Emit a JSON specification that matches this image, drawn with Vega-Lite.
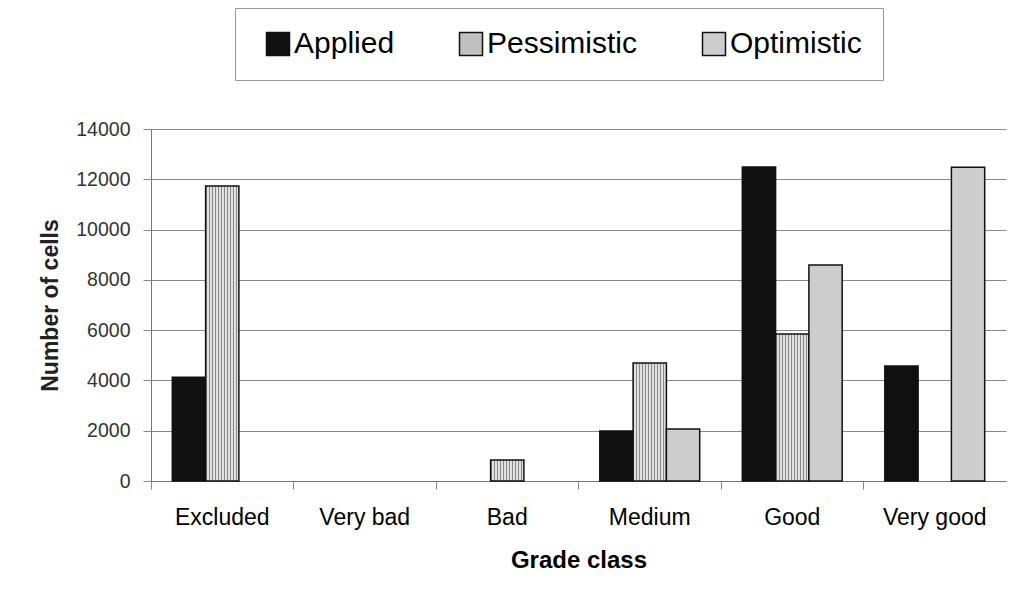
{
  "$schema": "https://vega.github.io/schema/vega-lite/v6.json",
  "autosize": {"type": "none"},
  "width": 855,
  "height": 352,
  "padding": {"left": 151, "top": 129, "right": 18, "bottom": 125},
  "background": "white",
  "config": {"font": "Liberation Sans", "view": {"stroke": null}},
  "data": {
    "values": [
      {"grade": "Excluded", "series": "Applied", "value": 4130},
      {"grade": "Excluded", "series": "Pessimistic", "value": 11730},
      {"grade": "Bad", "series": "Pessimistic", "value": 840},
      {"grade": "Medium", "series": "Applied", "value": 1990},
      {"grade": "Medium", "series": "Pessimistic", "value": 4690},
      {"grade": "Medium", "series": "Optimistic", "value": 2070},
      {"grade": "Good", "series": "Applied", "value": 12490},
      {"grade": "Good", "series": "Pessimistic", "value": 5850},
      {"grade": "Good", "series": "Optimistic", "value": 8590},
      {"grade": "Very good", "series": "Applied", "value": 4570},
      {"grade": "Very good", "series": "Optimistic", "value": 12480}
    ]
  },
  "mark": {"type": "bar", "stroke": "#111", "strokeWidth": 1.5},
  "encoding": {
    "x": {
      "field": "grade",
      "type": "nominal",
      "sort": ["Excluded", "Very bad", "Bad", "Medium", "Good", "Very good"],
      "scale": {"domain": ["Excluded", "Very bad", "Bad", "Medium", "Good", "Very good"], "paddingInner": 0, "paddingOuter": 0},
      "axis": {
        "title": "Grade class",
        "labelAngle": 0,
        "labelFontSize": 23,
        "labelColor": "#000",
        "labelPadding": 17,
        "bandPosition": 0,
        "tickSize": 8,
        "tickColor": "#888",
        "domainColor": "#777",
        "titleFontSize": 24,
        "titleFontWeight": "bold",
        "titleColor": "#000",
        "titlePadding": 19,
        "grid": false
      }
    },
    "xOffset": {
      "field": "series",
      "type": "nominal",
      "scale": {"domain": ["Applied", "Pessimistic", "Optimistic"], "paddingInner": 0, "paddingOuter": 0.64}
    },
    "y": {
      "field": "value",
      "type": "quantitative",
      "scale": {"domain": [0, 14000]},
      "axis": {
        "values": [0, 2000, 4000, 6000, 8000, 10000, 12000, 14000],
        "format": "d",
        "title": "Number of cells",
        "labelFontSize": 19.5,
        "labelColor": "#333",
        "labelPadding": 13,
        "tickSize": 8,
        "tickColor": "#888",
        "domainColor": "#777",
        "gridColor": "#888",
        "gridOpacity": 1,
        "titleFontSize": 23,
        "titleFontWeight": "bold",
        "titleColor": "#222",
        "titlePadding": 13
      }
    },
    "fill": {
      "condition": {
        "test": "datum.series === 'Pessimistic'",
        "value": {
          "gradient": "linear", "x1": 0, "y1": 0, "x2": 1, "y2": 0,
          "stops": [
            {"offset": 0, "color": "#8a8a8a"}, {"offset": 0.0303, "color": "#8a8a8a"}, {"offset": 0.0303, "color": "#e0e0e0"}, {"offset": 0.0909, "color": "#e0e0e0"},
            {"offset": 0.0909, "color": "#8a8a8a"}, {"offset": 0.1212, "color": "#8a8a8a"}, {"offset": 0.1212, "color": "#e0e0e0"}, {"offset": 0.1818, "color": "#e0e0e0"},
            {"offset": 0.1818, "color": "#8a8a8a"}, {"offset": 0.2121, "color": "#8a8a8a"}, {"offset": 0.2121, "color": "#e0e0e0"}, {"offset": 0.2727, "color": "#e0e0e0"},
            {"offset": 0.2727, "color": "#8a8a8a"}, {"offset": 0.3030, "color": "#8a8a8a"}, {"offset": 0.3030, "color": "#e0e0e0"}, {"offset": 0.3636, "color": "#e0e0e0"},
            {"offset": 0.3636, "color": "#8a8a8a"}, {"offset": 0.3939, "color": "#8a8a8a"}, {"offset": 0.3939, "color": "#e0e0e0"}, {"offset": 0.4545, "color": "#e0e0e0"},
            {"offset": 0.4545, "color": "#8a8a8a"}, {"offset": 0.4848, "color": "#8a8a8a"}, {"offset": 0.4848, "color": "#e0e0e0"}, {"offset": 0.5455, "color": "#e0e0e0"},
            {"offset": 0.5455, "color": "#8a8a8a"}, {"offset": 0.5758, "color": "#8a8a8a"}, {"offset": 0.5758, "color": "#e0e0e0"}, {"offset": 0.6364, "color": "#e0e0e0"},
            {"offset": 0.6364, "color": "#8a8a8a"}, {"offset": 0.6667, "color": "#8a8a8a"}, {"offset": 0.6667, "color": "#e0e0e0"}, {"offset": 0.7273, "color": "#e0e0e0"},
            {"offset": 0.7273, "color": "#8a8a8a"}, {"offset": 0.7576, "color": "#8a8a8a"}, {"offset": 0.7576, "color": "#e0e0e0"}, {"offset": 0.8182, "color": "#e0e0e0"},
            {"offset": 0.8182, "color": "#8a8a8a"}, {"offset": 0.8485, "color": "#8a8a8a"}, {"offset": 0.8485, "color": "#e0e0e0"}, {"offset": 0.9091, "color": "#e0e0e0"},
            {"offset": 0.9091, "color": "#8a8a8a"}, {"offset": 0.9394, "color": "#8a8a8a"}, {"offset": 0.9394, "color": "#e0e0e0"}, {"offset": 1, "color": "#e0e0e0"}
          ]
        }
      },
      "field": "series",
      "type": "nominal",
      "scale": {"domain": ["Applied", "Pessimistic", "Optimistic"], "range": ["#111111", "#c0c0c0", "#cdcdcd"]},
      "legend": {
        "title": null,
        "orient": "none",
        "legendX": 84,
        "legendY": -121,
        "direction": "horizontal",
        "columns": 3,
        "columnPadding": 54,
        "labelFontSize": 30,
        "labelColor": "#000",
        "labelOffset": 1,
        "symbolType": "square",
        "symbolSize": 529,
        "symbolOffset": 7,
        "symbolStrokeColor": "#111",
        "symbolStrokeWidth": 1.5,
        "symbolOpacity": 1,
        "padding": 21,
        "strokeColor": "#999",
        "fillColor": "white",
        "encode": {
          "symbols": {
            "update": {
              "stroke": {"value": "#111111"},
              "strokeWidth": {"value": 1.5}
            }
          }
        }
      }
    }
  }
}
